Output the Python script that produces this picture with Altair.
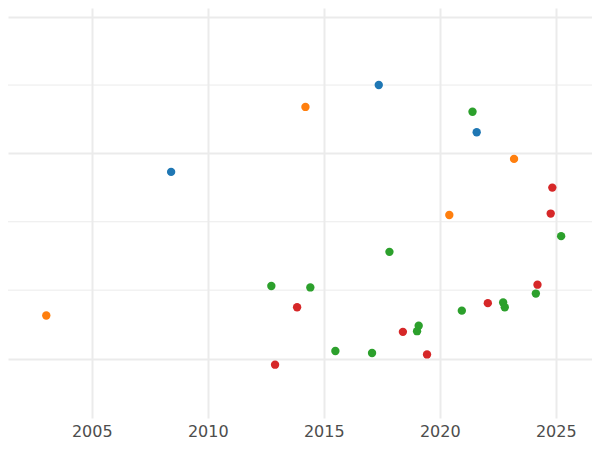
import altair as alt
import pandas as pd

# Estimated values
years_a = [2008.42, 2017.37, 2021.59]
vals_a = [2.73, 4.00, 3.31]

years_b = [2003.04, 2014.21, 2020.41, 2023.20]
vals_b = [0.63, 3.68, 2.10, 2.92]

years_c = [2012.74, 2014.42, 2017.83, 2015.50, 2017.08, 2019.09, 2019.02,
           2020.95, 2022.73, 2022.80, 2024.14, 2021.41, 2025.23]
vals_c = [1.06, 1.04, 1.56, 0.11, 0.08, 0.48, 0.40,
          0.70, 0.82, 0.75, 0.95, 3.61, 1.79]

years_d = [2013.85, 2012.90, 2018.41, 2019.45, 2022.07, 2024.21, 2024.85, 2024.78]
vals_d = [0.75, -0.09, 0.39, 0.06, 0.81, 1.08, 2.50, 2.12]

series_names = ["A", "B", "C", "D"]
series_colors = ["#1f77b4", "#ff7f0e", "#2ca02c", "#d62728"]

x_ticks = [2005, 2010, 2015, 2020, 2025]
y_major = [0, 3, 5]
y_minor = [1, 2, 4]

rows = []
for name, ys, vs in zip(series_names, [years_a, years_b, years_c, years_d],
                        [vals_a, vals_b, vals_c, vals_d]):
    for x, v in zip(ys, vs):
        rows.append({"year": x, "value": v, "series": name})
df = pd.DataFrame(rows)

# plot area: page x 8..592, y 8..418
x_scale = alt.Scale(domain=[2001.39, 2026.56], nice=False, zero=False)
y_scale = alt.Scale(domain=[-0.87, 5.127], nice=False, zero=False)

y_axis = alt.Axis(values=y_major, grid=True, gridColor="#ebebeb",
                  gridWidth=2, labels=False, ticks=False, domain=False)

minor = alt.Chart(pd.DataFrame({"v": y_minor})).mark_rule(
    color="#ebebeb", strokeWidth=1
).encode(y=alt.Y("v:Q", scale=y_scale, axis=y_axis, title=None))

points = alt.Chart(df).mark_circle(size=70, opacity=1).encode(
    x=alt.X("year:Q", scale=x_scale, title=None,
            axis=alt.Axis(values=x_ticks, format="d", grid=True,
                          gridColor="#ebebeb", gridWidth=2,
                          domain=False, ticks=False,
                          labelFont="DejaVu Sans", labelFontSize=16,
                          labelColor="#4d4d4d", labelPadding=5)),
    y=alt.Y("value:Q", scale=y_scale, title=None, axis=y_axis),
    color=alt.Color("series:N",
                    scale=alt.Scale(domain=series_names, range=series_colors),
                    legend=None),
)

chart = alt.layer(minor, points).properties(
    width=584, height=410,
    autosize=alt.AutoSizeParams(type="none"),
    padding={"left": 0, "top": 0, "right": 0, "bottom": 24},
).configure_view(stroke=None)

chart.save("out.html", embed_options={"renderer": "svg", "actions": False})
